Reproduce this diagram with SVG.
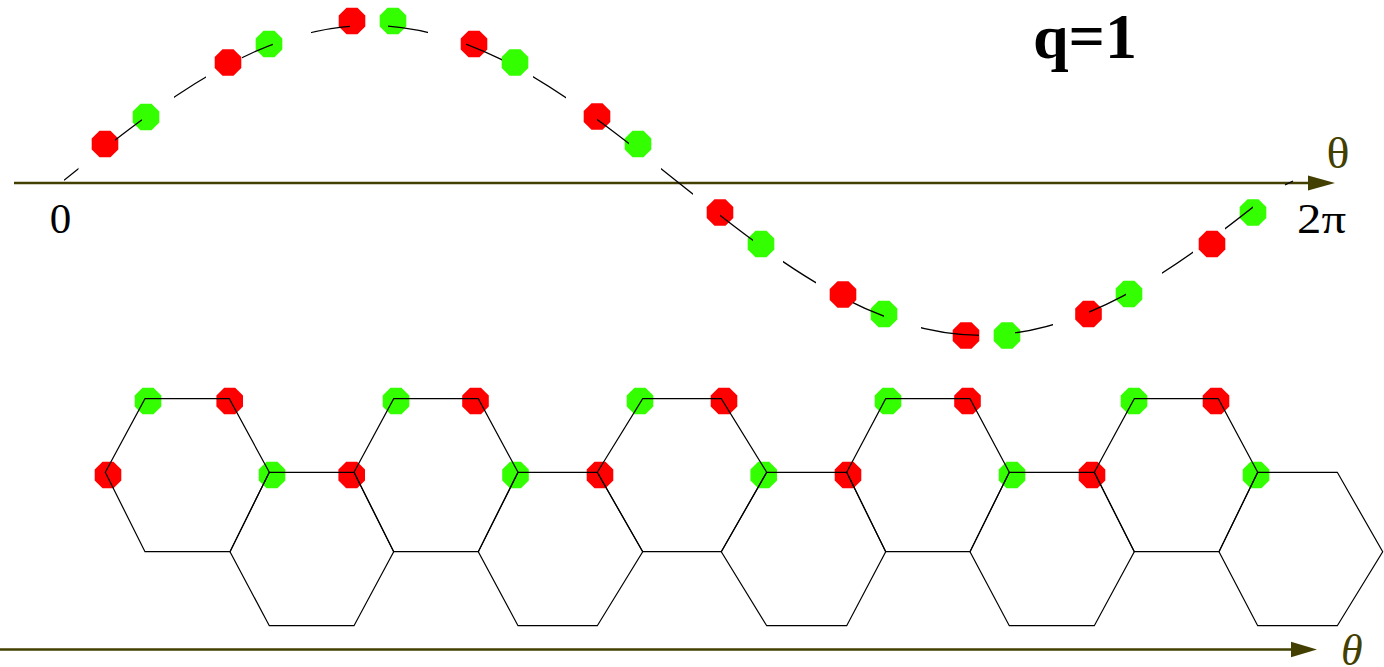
<svg xmlns="http://www.w3.org/2000/svg" xmlns:xlink="http://www.w3.org/1999/xlink" width="1384" height="667" viewBox="0 0 1384 667">
<style>
.r{fill:#ff0000}
.g{fill:#33ff00}
.hex{fill:none;stroke:#000;stroke-width:1.2;stroke-linejoin:miter}
.axis{stroke:#433f00;stroke-width:2.6;fill:none}
.head{fill:#433f00}
.curve{fill:none;stroke:#000;stroke-width:1.3}
.lbl{font-family:"Liberation Serif","Times New Roman",serif;font-size:43px;fill:#000}
.th{font-family:"Liberation Serif","Times New Roman",serif;font-size:44px;fill:#433f00}
</style>
<defs>
<polygon id="dot" points="13.3,5.5 5.5,13.3 -5.5,13.3 -13.3,5.5 -13.3,-5.5 -5.5,-13.3 5.5,-13.3 13.3,-5.5"/>
<clipPath id="dashes">
<rect x="64" y="0" width="14.5" height="400"/>
<rect x="115" y="0" width="27" height="400"/>
<rect x="174" y="0" width="32" height="400"/>
<rect x="242" y="0" width="31" height="400"/>
<rect x="311" y="0" width="39" height="400"/>
<rect x="388" y="0" width="40" height="400"/>
<rect x="466" y="0" width="36" height="400"/>
<rect x="533" y="0" width="33" height="400"/>
<rect x="597" y="0" width="32" height="400"/>
<rect x="661" y="0" width="32" height="400"/>
<rect x="720" y="0" width="33" height="400"/>
<rect x="783" y="0" width="33" height="400"/>
<rect x="853" y="0" width="31" height="400"/>
<rect x="921" y="0" width="58" height="400"/>
<rect x="1015" y="0" width="38" height="400"/>
<rect x="1089" y="0" width="37" height="400"/>
<rect x="1162" y="0" width="31" height="400"/>
<rect x="1225" y="0" width="28" height="400"/>
</clipPath>
</defs>
<rect width="1384" height="667" fill="#fff"/>

<g id="axes">
<line class="axis" x1="14" y1="183" x2="1311" y2="183"/>
<polygon class="head" points="1308,175.5 1335,183 1308,190.5"/>
<line class="axis" x1="0" y1="649.5" x2="1294" y2="649.5"/>
<polygon class="head" points="1291,641.7 1317,649.5 1291,657.3"/>
</g>

<g id="sine-dots">
<use href="#dot" x="105" y="144" class="r"/>
<use href="#dot" x="146" y="117" class="g"/>
<use href="#dot" x="228" y="62.5" class="r"/>
<use href="#dot" x="269" y="44" class="g"/>
<use href="#dot" x="352" y="21" class="r"/>
<use href="#dot" x="393" y="21" class="g"/>
<use href="#dot" x="474" y="44" class="r"/>
<use href="#dot" x="515" y="62.5" class="g"/>
<use href="#dot" x="597" y="116.5" class="r"/>
<use href="#dot" x="638" y="144" class="g"/>
<use href="#dot" x="720" y="212.5" class="r"/>
<use href="#dot" x="761" y="244" class="g"/>
<use href="#dot" x="843" y="294.5" class="r"/>
<use href="#dot" x="884" y="314" class="g"/>
<use href="#dot" x="966" y="335.5" class="r"/>
<use href="#dot" x="1007" y="335.5" class="g"/>
<use href="#dot" x="1088.5" y="314" class="r"/>
<use href="#dot" x="1129" y="294" class="g"/>
<use href="#dot" x="1212" y="244" class="r"/>
<use href="#dot" x="1253" y="212.5" class="g"/>
</g>

<g id="sine-curve">
<path class="curve" clip-path="url(#dashes)" d="M64,180.3 C163.7,100.9 259.1,25.3 369.75,25.3 C480.4,25.3 575.8,100.9 675.5,180.3 C775.2,259.7 870.6,335.3 981.25,335.3 C1091.9,335.3 1187.3,259.7 1287,180.3"/>
<line class="curve" x1="1285" y1="185" x2="1293" y2="181"/>
</g>

<g id="hex-dots">
<use href="#dot" x="148" y="401" class="g"/>
<use href="#dot" x="229.7" y="401" class="r"/>
<use href="#dot" x="396" y="401" class="g"/>
<use href="#dot" x="475.5" y="401" class="r"/>
<use href="#dot" x="640" y="401" class="g"/>
<use href="#dot" x="724" y="401" class="r"/>
<use href="#dot" x="888" y="401" class="g"/>
<use href="#dot" x="967.5" y="401" class="r"/>
<use href="#dot" x="1134" y="401" class="g"/>
<use href="#dot" x="1216" y="401" class="r"/>
<use href="#dot" x="108" y="475" class="r"/>
<use href="#dot" x="272" y="475" class="g"/>
<use href="#dot" x="351.7" y="475" class="r"/>
<use href="#dot" x="515.5" y="475" class="g"/>
<use href="#dot" x="600" y="475" class="r"/>
<use href="#dot" x="763.7" y="475" class="g"/>
<use href="#dot" x="848" y="475" class="r"/>
<use href="#dot" x="1012" y="475" class="g"/>
<use href="#dot" x="1092" y="475" class="r"/>
<use href="#dot" x="1256" y="475" class="g"/>
</g>

<g id="hex-lattice">
<polygon id="hex-u1" class="hex" points="105.3,472.3 145,398.7 229.3,398.7 269.3,472.3 230,551.7 145,551.7"/>
<polygon id="hex-u2" class="hex" points="354,472.3 393.7,398.7 478.3,398.7 518,472.3 478.3,551.7 393.7,551.7"/>
<polygon id="hex-u3" class="hex" points="597.3,472.3 642.7,398.7 721.3,398.7 766.7,472.3 721.3,551.7 642.7,551.7"/>
<polygon id="hex-u4" class="hex" points="846.7,472.3 885.7,398.7 970,398.7 1009.3,472.3 970,551.7 885.7,551.7"/>
<polygon id="hex-u5" class="hex" points="1094.3,472.3 1134.3,398.7 1218.3,398.7 1257.7,472.3 1219,551.7 1134.3,551.7"/>
<polygon id="hex-l1" class="hex" points="230,551.7 269.3,472.3 354,472.3 393.7,551.7 354,625.7 269.3,625.7"/>
<polygon id="hex-l2" class="hex" points="478.3,551.7 518,472.3 597.3,472.3 642.7,551.7 597.3,625.7 518,625.7"/>
<polygon id="hex-l3" class="hex" points="721.3,551.7 766.7,472.3 846.7,472.3 885.7,551.7 846.7,625.7 766.7,625.7"/>
<polygon id="hex-l4" class="hex" points="970,551.7 1009.3,472.3 1094.3,472.3 1134.3,551.7 1094.3,625.7 1009.3,625.7"/>
<polygon id="hex-l5" class="hex" points="1219,551.7 1257.7,472.3 1337.3,472.3 1382.7,551.7 1337.3,625.7 1257.7,625.7"/>
</g>

<g id="labels">
<text class="lbl" x="49.7" y="233">0</text>
<text class="lbl" x="1297" y="233" textLength="49" lengthAdjust="spacingAndGlyphs">2π</text>
<text class="th" x="1326.5" y="168" textLength="23" lengthAdjust="spacingAndGlyphs">θ</text>
<text class="th" x="1341" y="665" font-style="italic" font-size="50">θ</text>
<text x="1033" y="58" font-family="'Liberation Serif','Times New Roman',serif" font-weight="bold" font-size="64" fill="#000">q=1</text>
</g>
</svg>
